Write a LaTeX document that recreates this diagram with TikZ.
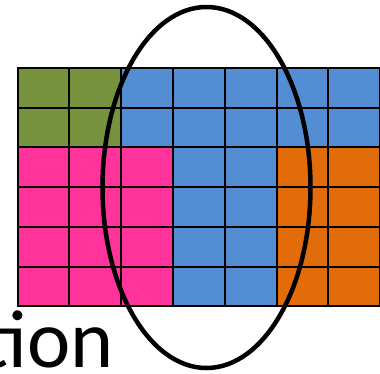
\documentclass[tikz,border=0pt]{standalone}
\usepackage{fontspec}
\setmainfont{Carlito}
\definecolor{cgreen}{RGB}{118,146,60}
\definecolor{cblue}{RGB}{83,142,213}
\definecolor{cpink}{RGB}{255,51,153}
\definecolor{corange}{RGB}{226,108,10}
\tikzset{
  cell/.style={draw=black, line width=2pt},
  ring/.style={draw=black, line width=4.5pt},
  label/.style={font=\fontsize{82}{82}\selectfont, inner sep=0pt}
}
\begin{document}
\begin{tikzpicture}[x=1pt,y=-1pt]
\useasboundingbox (0,0) rectangle (380,373);
\clip (0,0) rectangle (380,373);
\def\cw{51.8}
\def\ch{39.7}
\foreach \r in {0,1}{
  \foreach \c/\col in {0/cgreen,1/cgreen,2/cblue,3/cblue,4/cblue,5/cblue,6/cblue}{
    \path[cell, fill=\col] ({17.5+\c*\cw},{68+\r*\ch}) rectangle ++(\cw,\ch);
  }
}
\foreach \r in {2,3,4,5}{
  \foreach \c/\col in {0/cpink,1/cpink,2/cpink,3/cblue,4/cblue,5/corange,6/corange}{
    \path[cell, fill=\col] ({17.5+\c*\cw},{68+\r*\ch}) rectangle ++(\cw,\ch);
  }
}
\node[label, anchor=base east] (word) at (114,367) {tion};
\draw[ring] (206.5,187.5) ellipse [x radius=104, y radius=180.5];
\end{tikzpicture}
\end{document}
